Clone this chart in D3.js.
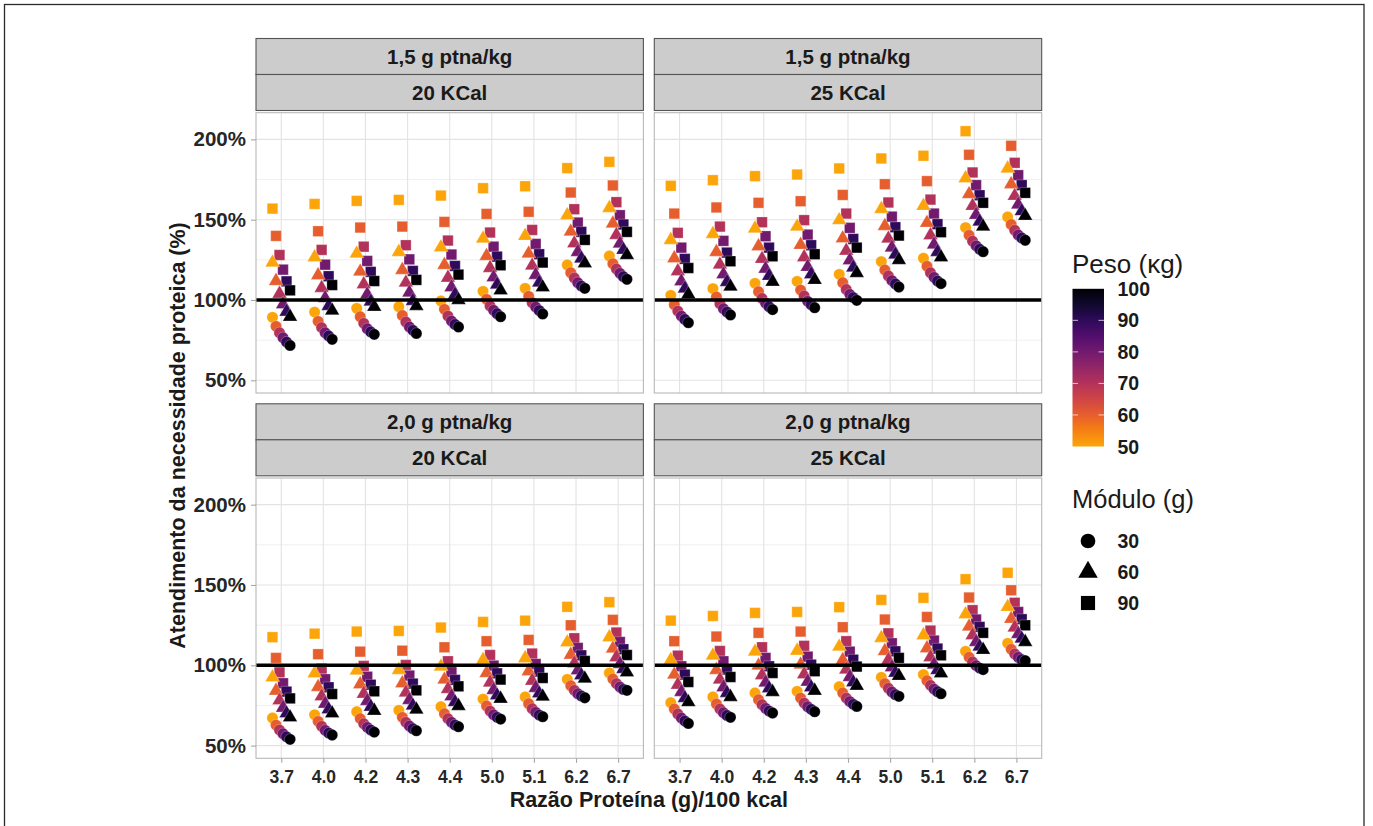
<!DOCTYPE html>
<html>
<head>
<meta charset="utf-8">
<script src="https://cdn.jsdelivr.net/npm/d3@7"></script>
<style>
  body { margin: 0; background: #fff; }
  svg text { font-family: "Liberation Sans", Arial, sans-serif; }
</style>
</head>
<body>
<div id="chart"></div>
<script>
// Categories of the chart
const ratios = ["3.7", "4.0", "4.2", "4.3", "4.4", "5.0", "5.1", "6.2", "6.7"];
const weights = [50, 60, 70, 80, 90, 100];
const modules = [30, 60, 90];
const rowLabels = ["1,5 g ptna/kg", "2,0 g ptna/kg"];
const colLabels = ["20 KCal", "25 KCal"];
const yTicks = [50, 100, 150, 200];
const yMinor = [75, 125, 175];
const legendTicks = [50, 60, 70, 80, 90, 100];

// Values (%), one entry per ratio: [30 g module, 60 g module, 90 g module], each for weights 50..100
const ptn15kcal20 = [
    [[89.2, 83.6, 79.6, 76.5, 73.8, 71.7], [123.3, 111.8, 103.9, 97.3, 92.7, 89.6], [156.9, 139.9, 128.0, 118.9, 111.6, 106.0]],
    [[92.5, 86.7, 82.8, 79.6, 77.6, 75.5], [126.6, 115.4, 107.5, 101.2, 96.3, 93.4], [159.8, 142.8, 131.2, 122.0, 114.8, 109.3]],
    [[94.8, 89.6, 85.5, 82.1, 80.1, 78.6], [128.9, 117.7, 109.8, 103.5, 99.0, 95.8], [161.7, 145.1, 133.2, 124.3, 117.5, 111.8]],
    [[95.8, 90.4, 86.3, 83.2, 81.1, 79.2], [129.9, 118.7, 110.8, 104.6, 99.4, 96.3], [162.3, 145.7, 134.1, 125.3, 118.1, 112.5]],
    [[99.4, 94.2, 90.0, 86.9, 84.8, 83.2], [132.8, 121.8, 113.9, 107.9, 103.3, 100.0], [165.0, 148.6, 137.0, 128.3, 121.2, 115.8]],
    [[105.4, 100.4, 96.3, 93.6, 91.5, 89.6], [138.2, 127.4, 119.9, 114.1, 109.6, 106.0], [169.6, 153.6, 142.0, 133.2, 127.0, 121.6]],
    [[107.3, 102.3, 98.3, 95.6, 93.4, 91.3], [139.9, 128.9, 121.4, 115.6, 110.8, 107.9], [170.8, 154.9, 143.6, 134.9, 128.5, 123.3]],
    [[121.8, 117.0, 113.7, 110.8, 108.7, 107.3], [152.8, 142.6, 135.3, 129.9, 125.8, 122.9], [182.1, 166.9, 156.5, 148.2, 142.4, 137.4]],
    [[127.4, 122.6, 119.3, 116.6, 114.5, 112.9], [157.3, 147.6, 140.5, 135.1, 131.2, 128.0], [186.0, 171.3, 160.9, 152.8, 147.0, 142.4]]
];
const ptn15kcal25 = [
    [[102.9, 97.1, 93.1, 90.0, 87.9, 85.9], [137.4, 126.0, 117.9, 111.6, 107.1, 103.5], [171.1, 153.8, 141.8, 132.6, 125.6, 119.9]],
    [[107.1, 101.9, 97.7, 94.6, 92.5, 90.7], [141.1, 129.9, 122.0, 116.0, 111.2, 108.3], [174.6, 157.6, 145.7, 136.8, 129.5, 124.1]],
    [[110.4, 105.2, 101.0, 98.1, 95.8, 94.0], [144.5, 133.5, 125.6, 119.5, 115.0, 111.4], [177.1, 160.5, 148.4, 139.7, 132.6, 127.2]],
    [[111.6, 106.2, 102.5, 99.2, 97.1, 95.2], [145.7, 134.3, 126.6, 120.6, 116.0, 112.5], [178.1, 161.5, 149.7, 140.7, 134.1, 128.5]],
    [[116.0, 110.8, 106.6, 103.5, 101.5, 99.8], [149.7, 138.4, 130.7, 124.7, 120.2, 116.8], [181.9, 165.4, 153.8, 144.9, 138.0, 132.6]],
    [[123.9, 118.7, 115.0, 112.1, 110.0, 108.1], [156.7, 146.1, 138.2, 132.6, 128.3, 124.9], [188.1, 172.1, 160.7, 151.9, 145.3, 140.1]],
    [[126.0, 121.0, 117.0, 114.1, 111.8, 110.2], [158.6, 148.0, 140.3, 134.5, 129.9, 126.6], [189.8, 174.0, 162.5, 153.8, 147.2, 142.2]],
    [[145.1, 140.3, 136.6, 133.7, 131.6, 130.1], [175.8, 165.9, 158.6, 153.0, 148.8, 145.7], [205.1, 190.4, 179.4, 171.5, 165.2, 160.5]],
    // the 50 kg / 90 g point falls outside the panel and is not shown
    [[151.7, 147.0, 143.4, 140.5, 138.6, 137.2], [181.9, 172.1, 164.8, 159.4, 155.3, 152.4], [null, 196.0, 185.4, 177.7, 171.5, 166.7]]
];
const ptn20kcal20 = [
    [[67.2, 62.8, 59.7, 57.4, 55.5, 53.9], [92.5, 84.2, 78.2, 73.6, 70.1, 67.6], [117.5, 104.6, 95.6, 88.8, 83.6, 79.4]],
    [[69.2, 65.1, 62.0, 59.5, 57.8, 56.6], [95.0, 86.5, 80.7, 76.1, 72.6, 70.1], [119.7, 106.9, 97.9, 91.3, 86.3, 82.1]],
    [[71.1, 66.8, 63.6, 61.4, 59.7, 58.4], [96.7, 88.2, 82.3, 77.8, 74.2, 71.7], [121.0, 108.5, 99.6, 92.9, 87.9, 83.8]],
    [[72.0, 67.6, 64.5, 62.2, 60.5, 59.3], [97.1, 88.8, 83.0, 78.4, 74.9, 72.4], [121.4, 109.1, 100.2, 93.6, 88.6, 84.4]],
    [[74.2, 69.9, 66.8, 64.5, 62.8, 61.8], [99.2, 91.1, 85.2, 80.7, 77.1, 74.7], [123.5, 111.2, 102.5, 95.8, 90.9, 86.9]],
    [[79.0, 74.7, 71.5, 69.2, 67.6, 66.5], [103.3, 95.2, 89.2, 84.6, 81.3, 79.2], [127.0, 115.0, 106.4, 99.8, 95.0, 91.1]],
    [[80.3, 76.1, 73.0, 70.7, 69.0, 68.0], [104.4, 96.3, 90.4, 85.9, 82.5, 80.5], [127.8, 115.8, 107.3, 100.8, 96.1, 92.1]],
    [[91.3, 87.3, 84.4, 82.3, 80.9, 79.8], [114.3, 106.6, 101.2, 96.9, 93.8, 91.7], [136.4, 124.9, 116.8, 110.8, 106.2, 102.7]],
    [[95.2, 91.5, 88.6, 86.5, 85.0, 84.4], [117.5, 110.4, 105.0, 100.8, 97.7, 95.6], [139.3, 128.3, 120.4, 114.5, 110.0, 106.4]]
];
const ptn20kcal25 = [
    [[76.7, 72.8, 69.7, 67.2, 65.3, 63.8], [103.3, 94.2, 87.9, 83.4, 79.6, 77.1], [127.8, 115.0, 106.0, 99.4, 94.2, 89.6]],
    [[80.3, 75.9, 72.8, 70.5, 68.8, 67.6], [106.0, 97.1, 91.1, 86.3, 82.8, 80.3], [130.7, 117.9, 108.9, 102.5, 97.3, 92.7]],
    [[82.8, 78.6, 75.5, 73.2, 71.5, 70.3], [108.5, 99.8, 93.8, 89.2, 85.7, 83.4], [132.6, 120.2, 111.2, 104.6, 99.4, 95.2]],
    [[83.8, 79.6, 76.5, 74.2, 72.6, 71.1], [109.1, 100.4, 94.4, 89.8, 86.3, 84.2], [133.2, 121.0, 112.1, 105.4, 100.4, 96.3]],
    [[86.7, 82.8, 79.6, 77.4, 75.7, 74.4], [111.6, 103.3, 97.3, 92.7, 89.4, 87.3], [136.2, 123.7, 115.0, 108.5, 103.5, 99.2]],
    [[92.5, 88.6, 85.7, 83.4, 81.7, 80.7], [117.0, 108.9, 103.3, 98.8, 95.4, 93.4], [140.7, 128.5, 119.9, 113.7, 108.7, 104.6]],
    [[94.2, 90.4, 87.5, 85.2, 83.6, 82.3], [118.7, 110.6, 105.0, 100.4, 97.1, 95.0], [142.0, 130.1, 121.6, 115.4, 110.4, 106.2]],
    [[108.7, 105.0, 102.1, 99.8, 98.3, 97.3], [131.8, 124.1, 118.7, 114.5, 111.6, 109.6], [153.6, 142.2, 134.3, 128.5, 123.9, 120.2]],
    [[113.7, 110.0, 107.1, 105.0, 103.5, 102.9], [136.4, 128.9, 123.5, 119.5, 116.6, 114.5], [157.6, 146.7, 138.9, 133.2, 128.7, 124.9]]
];
const panelData = [[ptn15kcal20, ptn15kcal25], [ptn20kcal20, ptn20kcal25]];

// Layout
const W = 1373, H = 826;
const panelX = [256, 654.3];
const panelY = [112.7, 478];
const panelW = 387.4, panelH = 280.3;
const stripH = 36, stripGap = 2.2;
const font = '"Liberation Sans", Arial, sans-serif';

var svg = d3.select('#chart').append('svg')
    .attr('width', W)
    .attr('height', H);

// Outer frame
svg.append('rect')
    .attr('x', 4.5).attr('y', 4.5)
    .attr('width', 1359.5).attr('height', 900)
    .attr('fill', 'none')
    .attr('stroke', '#2b2b2b')
    .attr('stroke-width', 1.3);

// Colour for weight: inferno, orange (50 kg) to black (100 kg)
var color = d3.scaleSequential(d3.interpolateInferno).domain([100, 37.5]);

var shapeOf = new Map([[30, d3.symbolCircle], [60, d3.symbolTriangle], [90, d3.symbolSquare]]);
var sizeOf = new Map([[30, 100], [60, 92], [90, 112]]);

for (let r = 0; r < 2; r++) {
    for (let c = 0; c < 2; c++) {
        const x0 = panelX[c], y0 = panelY[r];
        var g = svg.append('g');

        var x = d3.scalePoint().domain(ratios).range([x0, x0 + panelW]).padding(0.6);
        var dodge = d3.scaleBand().domain(weights).range([-0.25 * x.step(), 0.25 * x.step()]);
        var y = d3.scaleLinear().domain([42.1, 216.6]).range([y0 + panelH, y0]);

        // Strips
        const stripTop = y0 - stripGap - 2 * stripH;
        [rowLabels[r], colLabels[c]].forEach(function(lab, i) {
            g.append('rect')
                .attr('x', x0).attr('y', stripTop + i * stripH)
                .attr('width', panelW).attr('height', stripH)
                .attr('fill', '#cccccc')
                .attr('stroke', '#555555')
                .attr('stroke-width', 1.1);
            g.append('text')
                .attr('x', x0 + panelW / 2)
                .attr('y', stripTop + i * stripH + stripH / 2)
                .attr('dy', '0.36em')
                .attr('text-anchor', 'middle')
                .attr('font-size', '20.5px')
                .attr('font-weight', 'bold')
                .attr('fill', '#1a1a1a')
                .text(lab);
        });

        // Grid
        g.selectAll('.ymin').data(yMinor).enter().append('line')
            .attr('x1', x0).attr('x2', x0 + panelW)
            .attr('y1', d => y(d)).attr('y2', d => y(d))
            .attr('stroke', '#ebebeb').attr('stroke-width', 0.8);
        g.selectAll('.ymaj').data(yTicks).enter().append('line')
            .attr('x1', x0).attr('x2', x0 + panelW)
            .attr('y1', d => y(d)).attr('y2', d => y(d))
            .attr('stroke', '#e3e3e3').attr('stroke-width', 1.1);
        g.selectAll('.xmaj').data(ratios).enter().append('line')
            .attr('x1', d => x(d)).attr('x2', d => x(d))
            .attr('y1', y0).attr('y2', y0 + panelH)
            .attr('stroke', '#e3e3e3').attr('stroke-width', 1.1);

        // Points, drawn squares first, then triangles, then circles
        var pts = [];
        [2, 1, 0].forEach(function(m) {
            ratios.forEach(function(rat, i) {
                weights.forEach(function(w, j) {
                    var v = panelData[r][c][i][m][j];
                    if (v != null) pts.push({ratio: rat, weight: w, module: modules[m], value: v});
                });
            });
        });
        pts.sort((a, b) => (b.module - a.module) || (a.weight - b.weight));

        g.selectAll('.pt').data(pts).enter().append('path')
            .attr('d', d => d3.symbol().type(shapeOf.get(d.module)).size(sizeOf.get(d.module))())
            .attr('transform', d => 'translate(' + (x(d.ratio) + dodge(d.weight) + dodge.bandwidth() / 2) + ',' + y(d.value) + ')')
            .attr('fill', d => color(d.weight))
            .attr('stroke', 'white')
            .attr('stroke-opacity', 0.5)
            .attr('stroke-width', 0.5);

        // Reference line at 100%
        g.append('line')
            .attr('x1', x0).attr('x2', x0 + panelW)
            .attr('y1', y(100)).attr('y2', y(100))
            .attr('stroke', 'black').attr('stroke-width', 3.6);

        // Panel border
        g.append('rect')
            .attr('x', x0).attr('y', y0)
            .attr('width', panelW).attr('height', panelH)
            .attr('fill', 'none')
            .attr('stroke', '#b8b8b8')
            .attr('stroke-width', 1.1);

        // Axes
        if (c == 0) {
            var ya = g.append('g')
                .attr('transform', 'translate(' + x0 + ',0)')
                .call(d3.axisLeft(y).tickValues(yTicks).tickSize(5).tickPadding(5).tickFormat(d => d + '%'));
            ya.select('.domain').remove();
            ya.selectAll('line').attr('stroke', '#a6a6a6').attr('stroke-width', 1.1);
            ya.selectAll('text')
                .attr('font-family', font)
                .attr('font-size', '20.5px')
                .attr('font-weight', 'bold')
                .attr('fill', '#262626');
        }
        if (r == 1) {
            var xa = g.append('g')
                .attr('transform', 'translate(0,' + (y0 + panelH) + ')')
                .call(d3.axisBottom(x).tickSize(4.5).tickPadding(7.5));
            xa.select('.domain').remove();
            xa.selectAll('line').attr('stroke', '#a6a6a6').attr('stroke-width', 1.1);
            xa.selectAll('text')
                .attr('font-family', font)
                .attr('font-size', '17.5px')
                .attr('font-weight', 'bold')
                .attr('fill', '#262626');
        }
    }
}

// Axis titles
svg.append('text')
    .attr('x', (panelX[0] + panelX[1] + panelW) / 2)
    .attr('y', 807)
    .attr('text-anchor', 'middle')
    .attr('font-size', '21.5px')
    .attr('font-weight', 'bold')
    .attr('fill', '#1a1a1a')
    .text('Razão Proteína (g)/100 kcal');

svg.append('text')
    .attr('transform', 'translate(184.5,' + ((panelY[0] + panelY[1] + panelH) / 2) + ') rotate(-90)')
    .attr('text-anchor', 'middle')
    .attr('font-size', '21.5px')
    .attr('font-weight', 'bold')
    .attr('fill', '#1a1a1a')
    .text('Atendimento da necessidade proteica (%)');

// Colour bar legend
var leg = svg.append('g');
leg.append('text')
    .attr('x', 1072).attr('y', 273)
    .attr('font-size', '26px')
    .attr('fill', '#1a1a1a')
    .text('Peso (κg)');

var grad = svg.append('defs').append('linearGradient')
    .attr('id', 'pesoGrad')
    .attr('x1', 0).attr('y1', 1).attr('x2', 0).attr('y2', 0);
d3.range(0, 11).forEach(function(i) {
    grad.append('stop')
        .attr('offset', (i * 10) + '%')
        .attr('stop-color', color(50 + i * 5));
});

var yLeg = d3.scaleLinear().domain([50, 100]).range([446.5, 288.8]);
leg.append('rect')
    .attr('x', 1072.5).attr('y', yLeg(100))
    .attr('width', 31.5).attr('height', yLeg(50) - yLeg(100))
    .attr('fill', 'url(#pesoGrad)');
leg.selectAll('.tl').data(legendTicks.slice(1, 5)).enter().append('line')
    .attr('x1', 1072.5).attr('x2', 1078)
    .attr('y1', d => yLeg(d)).attr('y2', d => yLeg(d))
    .attr('stroke', 'white').attr('stroke-opacity', 0.7).attr('stroke-width', 1);
leg.selectAll('.tr').data(legendTicks.slice(1, 5)).enter().append('line')
    .attr('x1', 1098.5).attr('x2', 1104)
    .attr('y1', d => yLeg(d)).attr('y2', d => yLeg(d))
    .attr('stroke', 'white').attr('stroke-opacity', 0.7).attr('stroke-width', 1);
leg.selectAll('.ll').data(legendTicks).enter().append('text')
    .attr('x', 1117.5)
    .attr('y', d => yLeg(d))
    .attr('dy', '0.36em')
    .attr('font-size', '19.5px')
    .attr('font-weight', 'bold')
    .attr('fill', '#1a1a1a')
    .text(d => d);

// Shape legend
leg.append('text')
    .attr('x', 1072).attr('y', 508)
    .attr('font-size', '25.5px')
    .attr('fill', '#1a1a1a')
    .text('Módulo (g)');

var keyY = d3.scalePoint().domain(modules).range([541, 603]);
var keySize = new Map([[30, 170], [60, 165], [90, 200]]);
leg.selectAll('.key').data(modules).enter().append('path')
    .attr('d', d => d3.symbol().type(shapeOf.get(d)).size(keySize.get(d))())
    .attr('transform', d => 'translate(1088,' + keyY(d) + ')')
    .attr('fill', 'black');
leg.selectAll('.kl').data(modules).enter().append('text')
    .attr('x', 1117.5)
    .attr('y', d => keyY(d))
    .attr('dy', '0.36em')
    .attr('font-size', '19.5px')
    .attr('font-weight', 'bold')
    .attr('fill', '#1a1a1a')
    .text(d => d);
</script>
</body>
</html>
